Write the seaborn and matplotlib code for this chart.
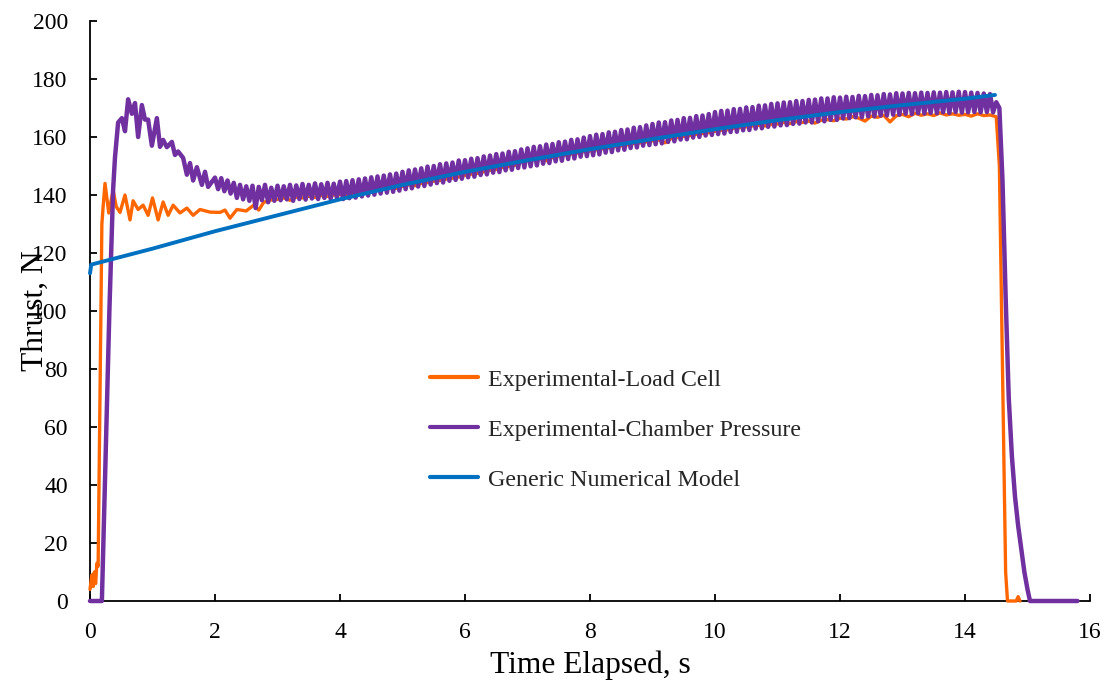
import numpy as np
import pandas as pd
import matplotlib
matplotlib.use("Agg")
import matplotlib.pyplot as plt
import seaborn as sns

# ---------------- data ----------------
SERIES = ["Experimental-Load Cell", "Experimental-Chamber Pressure", "Generic Numerical Model"]
COLORS = {"Experimental-Load Cell": "#FF6600",
          "Experimental-Chamber Pressure": "#7030A0",
          "Generic Numerical Model": "#0070C0"}

X_TICKS = [0, 2, 4, 6, 8, 10, 12, 14, 16]
Y_TICKS = [0, 20, 40, 60, 80, 100, 120, 140, 160, 180, 200]

# Load cell: ignition transient (explicit samples)
ORANGE_EARLY_T = [0.0, 0.03, 0.05, 0.07, 0.09, 0.11, 0.13, 0.16, 0.19, 0.21, 0.24, 0.30, 0.37,
                  0.42, 0.48, 0.56, 0.64, 0.69, 0.77, 0.85, 0.93, 1.00, 1.09, 1.17, 1.25, 1.33,
                  1.44, 1.55, 1.65, 1.76, 1.92, 2.08, 2.16, 2.24, 2.35, 2.50, 2.62, 2.70, 2.78, 2.90]
ORANGE_EARLY_N = [4, 9, 5, 10, 6, 13, 12, 70, 130, 136, 144, 133.8, 141.7,
                  136, 134, 140, 131.4, 138, 135, 136.5, 133, 139, 131.4, 137.6, 133, 136.5,
                  133.8, 135.5, 133, 135, 134.1, 134, 134.8, 132, 135, 134.5, 136.5, 134.8, 137.5, 138.3]
# Load cell: steady burn, one sample every 0.1 s from 3.0 s to 14.5 s
ORANGE_STEADY_START = 3.0
ORANGE_STEADY_STEP = 0.1
ORANGE_STEADY_N = [
    138.5, 139.0, 138.2, 139.3, 139.0, 139.6, 139.2, 139.8, 139.5, 140.0,
    140.2, 139.8, 140.5, 140.8, 141.2, 141.0, 141.8, 142.0, 142.5, 142.3,
    143.0, 143.5, 143.2, 144.0, 144.3, 144.8, 145.0, 145.5, 145.8, 146.2,
    146.8, 147.2, 147.5, 148.0, 148.5, 148.8, 149.5, 149.8, 150.3, 151.5,
    152.0, 152.2, 152.6, 151.8, 153.0, 153.5, 153.8, 154.2, 154.5, 155.0,
    155.2, 155.6, 156.0, 156.3, 156.8, 157.0, 157.3, 157.8, 158.0, 158.3,
    158.7, 159.0, 158.0, 159.5, 159.8, 160.2, 160.5, 160.9, 161.2, 161.5,
    162.0, 162.3, 162.5, 163.0, 163.3, 163.5, 163.8, 164.0, 163.8, 164.3,
    164.5, 165.0, 164.6, 165.3, 165.0, 165.5, 164.8, 165.8, 166.0, 165.6,
    166.5, 166.2, 167.0, 166.5, 165.5, 167.2, 166.8, 167.5, 165.2, 167.3,
    167.8, 167.0, 168.2, 167.5, 168.0, 167.4, 168.3, 167.6, 168.0, 167.5,
    167.8, 167.2, 168.0, 167.4, 167.6, 167.0]
ORANGE_END_T = [14.55, 14.60, 14.65, 14.68, 14.82, 14.85, 14.88]
ORANGE_END_N = [150, 80, 10, 0, 0, 1.5, 0]

# Chamber pressure: ignition transient (explicit samples)
PURPLE_EARLY_T = [0.0, 0.19, 0.25, 0.31, 0.37, 0.40, 0.45, 0.51, 0.56, 0.61, 0.67, 0.72, 0.77,
                  0.83, 0.88, 0.93, 0.99, 1.07, 1.12, 1.17, 1.23, 1.31, 1.36, 1.41, 1.49, 1.55,
                  1.60, 1.65, 1.71, 1.79, 1.84, 1.89]
PURPLE_EARLY_N = [0, 0, 50, 100, 142, 153, 165, 166.5, 162, 173, 168, 171.7, 160,
                  171, 166, 166, 157, 166.5, 156.6, 159, 156.5, 158.3, 153.8, 155, 152.8, 147,
                  151, 145, 149.6, 143.5, 148, 142.8]
# Chamber pressure: oscillating steady burn, peaks/troughs every 0.05 s from 2.0 s
PURPLE_OSC_START = 2.0
PURPLE_OSC_STEP = 0.05
PURPLE_OSC_N = [
    146.0, 142.0, 145.8, 141.3, 145.0, 140.5, 144.2, 139.0, 143.5, 138.5, 143.0, 138.0, 143.2, 135.5, 142.8, 138.2, 143.5, 137.5, 142.5, 138.0,
    143.2, 138.2, 143.0, 138.5, 143.5, 138.0, 143.3, 138.6, 143.8, 138.4, 143.5, 138.8, 144.0, 138.6, 143.7, 139.0, 144.2, 138.7, 143.9, 139.1,
    144.6, 138.6, 144.8, 138.9, 145.1, 139.1, 145.4, 139.5, 145.7, 139.8, 146.1, 140.1, 146.4, 140.5, 146.7, 140.8, 147.1, 141.1, 147.4, 141.5,
    148.0, 142.0, 148.5, 142.3, 148.8, 142.9, 149.2, 143.1, 149.8, 143.6, 150.0, 144.1, 150.6, 144.3, 150.9, 144.9, 151.2, 145.2, 151.9, 145.6,
    152.0, 146.1, 152.5, 146.3, 152.7, 146.9, 153.3, 147.1, 153.6, 147.7, 154.1, 147.9, 154.3, 148.5, 154.9, 148.7, 155.1, 149.3, 155.7, 149.5,
    156.1, 149.9, 156.6, 150.2, 156.8, 150.8, 157.4, 151.0, 157.6, 151.6, 158.2, 151.8, 158.4, 152.4, 159.0, 152.6, 159.2, 153.2, 159.8, 153.4,
    160.3, 153.7, 160.8, 154.0, 161.0, 154.6, 161.6, 154.8, 161.8, 155.4, 162.4, 155.6, 162.6, 156.2, 163.2, 156.4, 163.4, 157.0, 164.0, 157.2,
    164.5, 157.5, 165.0, 157.8, 165.1, 158.3, 165.7, 158.5, 165.9, 159.1, 166.5, 159.2, 166.6, 159.8, 167.2, 160.0, 167.4, 160.5, 167.9, 160.7,
    168.6, 161.0, 169.0, 161.2, 169.1, 161.7, 169.6, 161.8, 169.7, 162.3, 170.2, 162.4, 170.3, 162.9, 170.8, 163.0, 170.9, 163.5, 171.4, 163.6,
    171.6, 164.0, 171.9, 164.1, 172.0, 164.5, 172.4, 164.6, 172.4, 165.0, 172.8, 165.0, 172.9, 165.4, 173.3, 165.4, 173.3, 165.9, 173.7, 165.9,
    173.6, 166.4, 173.9, 166.5, 173.8, 166.8, 174.2, 166.8, 174.1, 167.1, 174.5, 167.1, 174.4, 167.4, 174.8, 167.4, 174.7, 167.7, 175.1, 167.7,
    175.0, 168.0, 175.2, 167.9, 175.1, 168.2, 175.3, 168.1, 175.2, 168.3, 175.4, 168.2, 175.3, 168.5, 175.5, 168.3, 175.4, 168.6, 175.6, 168.4,
    175.5, 168.5, 175.3, 168.6, 175.2, 168.5, 175.0, 168.6, 174.8, 168.5]
PURPLE_END_T = [14.50, 14.55, 14.60, 14.65, 14.70, 14.75, 14.80, 14.85, 14.90, 14.95, 15.00, 15.04, 15.80]
PURPLE_END_N = [172.0, 170, 145, 105, 70, 50, 36, 26, 18, 10, 4, 0, 0]

# Numerical model
BLUE_T = [0.0, 0.02, 1, 2, 3, 4, 5, 6, 7, 8, 9, 10, 11, 12, 13, 14, 14.48]
BLUE_N = [113, 116, 121.5, 127.5, 133, 138.5, 143.5, 148, 152, 155.8, 159.3, 162.7, 165.8,
          168.6, 171, 173.2, 174.5]

# ---------------- assemble ----------------
orange_t = (ORANGE_EARLY_T
            + [ORANGE_STEADY_START + i * ORANGE_STEADY_STEP for i in range(len(ORANGE_STEADY_N))]
            + ORANGE_END_T)
orange_n = ORANGE_EARLY_N + ORANGE_STEADY_N + ORANGE_END_N
purple_t = (PURPLE_EARLY_T
            + [PURPLE_OSC_START + i * PURPLE_OSC_STEP for i in range(len(PURPLE_OSC_N))]
            + PURPLE_END_T)
purple_n = PURPLE_EARLY_N + PURPLE_OSC_N + PURPLE_END_N

df = pd.concat([
    pd.DataFrame({"t": orange_t, "N": orange_n, "series": SERIES[0]}),
    pd.DataFrame({"t": purple_t, "N": purple_n, "series": SERIES[1]}),
    pd.DataFrame({"t": BLUE_T, "N": BLUE_N, "series": SERIES[2]}),
], ignore_index=True)

# ---------------- style ----------------
sns.set_theme(style="white")
plt.rcParams["font.family"] = ["Liberation Serif", "DejaVu Serif"]

fig = plt.figure(figsize=(11.1, 6.81), dpi=100)
ax = fig.add_axes([90 / 1110, 80 / 681, 1000 / 1110, 580 / 681])

sns.lineplot(data=df, x="t", y="N", hue="series", hue_order=SERIES, palette=COLORS,
             estimator=None, sort=False, linewidth=2.6, ax=ax)

widths = {COLORS[SERIES[0]]: 2.4, COLORS[SERIES[1]]: 3.2, COLORS[SERIES[2]]: 2.8}
for ln in ax.lines:
    c = matplotlib.colors.to_hex(ln.get_color()).upper()
    for k, w in widths.items():
        if k.upper() == c:
            ln.set_linewidth(w)
    ln.set_clip_on(False)
    ln.set_zorder(3)
    ln.set_solid_joinstyle("round")

ax.set_xlim(0, 16)
ax.set_ylim(0, 200)
ax.set_xticks(X_TICKS)
ax.set_yticks(Y_TICKS)
ax.set_xticklabels([str(v) for v in X_TICKS])
ax.set_yticklabels([str(v) for v in Y_TICKS])

for s in ["top", "right"]:
    ax.spines[s].set_visible(False)
for s in ["left", "bottom"]:
    ax.spines[s].set_color("black")
    ax.spines[s].set_linewidth(1.3)
    ax.spines[s].set_zorder(2.5)

ax.tick_params(axis="both", which="major", direction="in", length=5, width=1.3,
               color="black", labelcolor="black", labelsize=17, bottom=True, left=True)
ax.tick_params(axis="y", pad=16)
ax.tick_params(axis="x", pad=15)

ax.set_xlabel("Time Elapsed, s", fontsize=22.7, color="black")
ax.set_ylabel("Thrust, N", fontsize=22.7, color="black")
ax.xaxis.set_label_coords(0.5, -0.086)
ax.yaxis.set_label_coords(-0.040, 0.5)

handles, labels = ax.get_legend_handles_labels()
leg = ax.legend(handles, labels, loc="center left", bbox_to_anchor=(0.34, 0.295),
                frameon=False, fontsize=17.3, handlelength=2.0, handletextpad=0.42,
                labelspacing=1.17, borderpad=0, borderaxespad=0)
for h in leg.legend_handles:
    h.set_linewidth(3)

fig.savefig("out.png", dpi=100)
